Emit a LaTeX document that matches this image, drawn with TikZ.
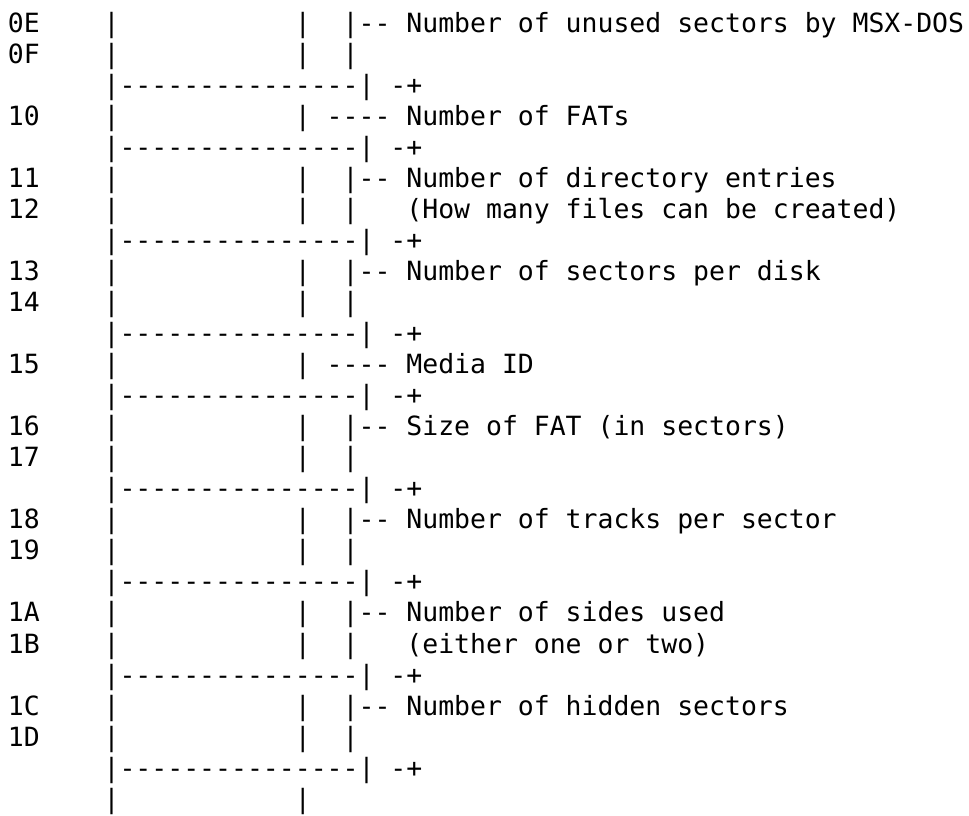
\documentclass[tikz,border=0pt]{standalone}
\usepackage{fontspec}
\setmonofont{DejaVu Sans Mono}
\frenchspacing
% horizontal blank of n character cells in the current monospaced font
\newcommand\gap[1]{\hspace*{#1\fontcharwd\font`0}}
% left part of a register row: offset label and the two box walls
\newcommand\regrow[1]{#1\gap4|\gap{11}|}
% divider between two fields of the boot sector
\newcommand\divider{\gap6|---------------|\gap1-+}
\begin{document}
\begin{tikzpicture}[
  txt/.style={anchor=base west, inner sep=0pt, outer sep=0pt,
    font=\ttfamily\fontsize{26.47}{31}\selectfont}
]
\fill[white] (0,0) rectangle (969pt,-815pt);
\useasboundingbox (0,0) rectangle (969pt,-815pt);
\begin{scope}[x=15.94pt, y=-31.05pt, shift={(8pt,-0.95pt)}]
\node[txt] (r1)  at (0,1)  {\regrow{0E}\gap2|-- Number of unused sectors by MSX-DOS};
\node[txt] (r2)  at (0,2)  {\regrow{0F}\gap2|};
\node[txt] (r3)  at (0,3)  {\divider};
\node[txt] (r4)  at (0,4)  {\regrow{10}\gap1---- Number of FATs};
\node[txt] (r5)  at (0,5)  {\divider};
\node[txt] (r6)  at (0,6)  {\regrow{11}\gap2|-- Number of directory entries};
\node[txt] (r7)  at (0,7)  {\regrow{12}\gap2|\gap3(How many files can be created)};
\node[txt] (r8)  at (0,8)  {\divider};
\node[txt] (r9)  at (0,9)  {\regrow{13}\gap2|-- Number of sectors per disk};
\node[txt] (r10) at (0,10) {\regrow{14}\gap2|};
\node[txt] (r11) at (0,11) {\divider};
\node[txt] (r12) at (0,12) {\regrow{15}\gap1---- Media ID};
\node[txt] (r13) at (0,13) {\divider};
\node[txt] (r14) at (0,14) {\regrow{16}\gap2|-- Size of FAT (in sectors)};
\node[txt] (r15) at (0,15) {\regrow{17}\gap2|};
\node[txt] (r16) at (0,16) {\divider};
\node[txt] (r17) at (0,17) {\regrow{18}\gap2|-- Number of tracks per sector};
\node[txt] (r18) at (0,18) {\regrow{19}\gap2|};
\node[txt] (r19) at (0,19) {\divider};
\node[txt] (r20) at (0,20) {\regrow{1A}\gap2|-- Number of sides used};
\node[txt] (r21) at (0,21) {\regrow{1B}\gap2|\gap3(either one or two)};
\node[txt] (r22) at (0,22) {\divider};
\node[txt] (r23) at (0,23) {\regrow{1C}\gap2|-- Number of hidden sectors};
\node[txt] (r24) at (0,24) {\regrow{1D}\gap2|};
\node[txt] (r25) at (0,25) {\divider};
\node[txt] (r26) at (0,26) {\gap6|\gap{11}|};
\end{scope}
\end{tikzpicture}
\end{document}
